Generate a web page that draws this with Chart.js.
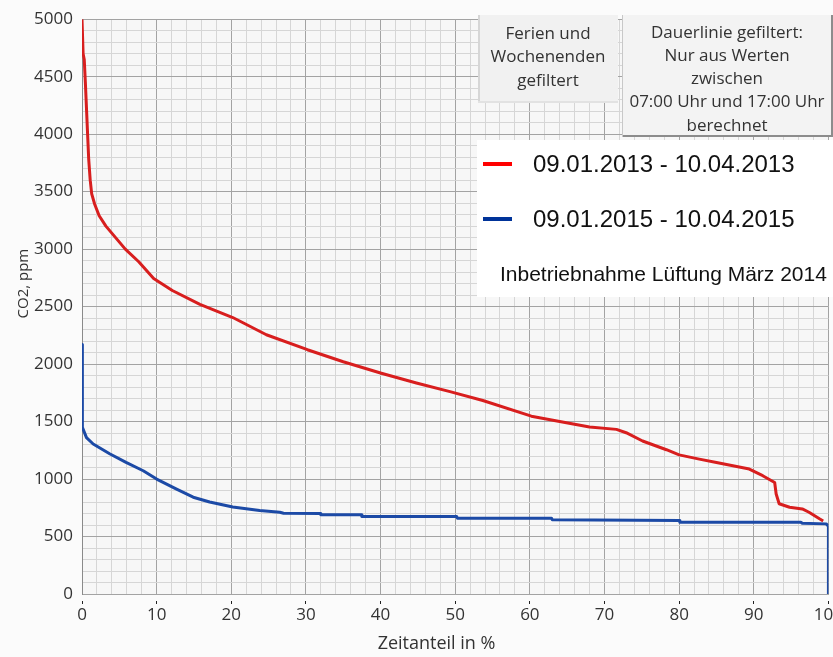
<!DOCTYPE html>
<html>
<head>
<meta charset="utf-8">
<script src="https://cdn.jsdelivr.net/npm/chart.js@4.4.1/dist/chart.umd.min.js"></script>
<style>
    html, body { margin: 0; padding: 0; background: #fbfbfb; }
    #wrap { width: 833px; height: 657px; overflow: hidden; }
</style>
</head>
<body>
<div id="wrap"><canvas id="chartCO2_Dauerlinie" width="844" height="657"></canvas></div>
<script>
    // Dauerlinie 09.01.2013 - 10.04.2013 (Zeitanteil in %, CO2 in ppm)
    var x_2013 = [0, 0.15, 0.3, 0.45, 0.55, 0.75, 0.9, 1.1, 1.3, 1.7, 2.3, 3.2, 4.5, 5.8, 7.6, 9.6, 12.1, 15.8, 20.2, 24.7,
        30.2, 35, 40.1, 44.8, 49.3, 53.7, 60.2, 64.9, 68, 71.6, 72.9, 75.1, 78.3, 80, 82.7, 85, 87.2, 89.4, 91.2, 92.8,
        93, 93.4, 94.8, 96.5, 97.4, 98.8, 99.3];
    var co2_2013 = [5000, 4700, 4650, 4450, 4300, 4000, 3780, 3600, 3480, 3390, 3290, 3200, 3100, 3000, 2890, 2745, 2640, 2520, 2405, 2255,
        2125, 2020, 1920, 1835, 1760, 1683, 1547, 1489, 1452, 1432, 1403, 1331, 1255, 1210, 1173, 1144, 1115, 1087, 1029, 970,
        870, 785, 755, 740, 711, 654, 635];

    // Dauerlinie 09.01.2015 - 10.04.2015
    var x_2015 = [0, 0.05, 0.6, 1.5, 3.7, 5.9, 8.2, 10, 12.6, 14.9, 17.1, 20.2, 23.8, 26.5, 27, 31.9, 32, 37.4, 37.5, 50.2,
        50.3, 62.9, 63, 80, 80.1, 96.3, 96.5, 99.7, 100, 100];
    var co2_2015 = [2170, 1450, 1360, 1305, 1220, 1145, 1072, 1000, 915, 842, 800, 756, 726, 711, 703, 700, 689, 689, 674, 674,
        660, 660, 646, 640, 625, 625, 616, 610, 590, 0];

    var xTickLabels = [0, 10, 20, 30, 40, 50, 60, 70, 80, 90, 100];
    var yTickLabels = [0, 500, 1000, 1500, 2000, 2500, 3000, 3500, 4000, 4500, 5000];

    var seriesLabels = ['09.01.2013 - 10.04.2013', '09.01.2015 - 10.04.2015'];
    var filterText1 = ['Ferien und', 'Wochenenden', 'gefiltert'];
    var filterText2 = ['Dauerlinie gefiltert:', 'Nur aus Werten', 'zwischen', '07:00 Uhr und 17:00 Uhr', 'berechnet'];
    var noteText = 'Inbetriebnahme Lüftung März 2014';
    var xTitle = 'Zeitanteil in %';
    var yTitle = 'CO2, ppm';

    var arrColor = ['#d81e1e', '#1c4aa6'];
    var arrLegendColor = ['#ff0000', '#003399'];

    function toPoints(xs, ys) {
        let arr = [];
        for (let i = 0; i < xs.length; i++) {
            arr.push({ x: xs[i], y: ys[i] });
        }
        return arr;
    }

    const overlay = {
        id: 'overlay',
        beforeDraw: function (chart) {
            const ctx = chart.ctx;
            const a = chart.chartArea;
            ctx.save();
            ctx.fillStyle = '#fbfbfb';
            ctx.fillRect(0, 0, chart.width, chart.height);
            ctx.fillStyle = '#f7f7f7';
            ctx.fillRect(a.left, a.top, a.right - a.left, a.bottom - a.top);
            ctx.restore();
        },
        afterDraw: function (chart) {
            const ctx = chart.ctx;
            const sx = chart.scales.x;
            const sy = chart.scales.y;
            ctx.save();

            // axis titles
            ctx.fillStyle = '#333';
            ctx.font = '18px "Open Sans"';
            ctx.textAlign = 'center';
            ctx.textBaseline = 'middle';
            ctx.fillText(xTitle, sx.getPixelForValue(47.5), 644);

            ctx.save();
            ctx.translate(24, sy.getPixelForValue(2700));
            ctx.rotate(-Math.PI / 2);
            ctx.font = '15px "Open Sans"';
            ctx.fillText(yTitle, 0, 0);
            ctx.restore();

            // box "Ferien und Wochenenden gefiltert"
            ctx.fillStyle = '#f1f1f1';
            ctx.fillRect(478, 15, 140, 88);
            ctx.fillStyle = '#d6d6d6';
            ctx.fillRect(478, 15, 2, 88);
            ctx.fillStyle = '#e2e2e2';
            ctx.fillRect(478, 101, 140, 2);

            // box "Dauerlinie gefiltert"
            ctx.fillStyle = '#f3f3f3';
            ctx.fillRect(622, 15, 211, 122);
            ctx.fillStyle = '#8c8c8c';
            ctx.fillRect(622, 135, 211, 2);
            ctx.fillRect(831, 15, 2, 122);
            ctx.fillStyle = '#c8c8c8';
            ctx.fillRect(622, 15, 1, 122);

            ctx.fillStyle = '#333';
            ctx.font = '17px "Open Sans"';
            for (let i = 0; i < filterText1.length; i++) {
                ctx.fillText(filterText1[i], 548, 34 + i * 23.5);
            }
            for (let i = 0; i < filterText2.length; i++) {
                ctx.fillText(filterText2[i], 727, 33 + i * 23.2);
            }

            // legend
            ctx.fillStyle = '#ffffff';
            ctx.fillRect(477, 140, 356, 157);
            ctx.textAlign = 'left';
            for (let i = 0; i < seriesLabels.length; i++) {
                let y = 164 + i * 55;
                ctx.fillStyle = arrLegendColor[i];
                ctx.fillRect(483, y - 2, 29, 4);
                ctx.fillStyle = '#111';
                ctx.font = '24px "Liberation Sans"';
                ctx.fillText(seriesLabels[i], 533, y + 1);
            }
            ctx.font = '21px "Liberation Sans"';
            ctx.fillText(noteText, 500, 275);

            ctx.restore();
        }
    };

    let ctx1 = document.getElementById('chartCO2_Dauerlinie').getContext('2d');

    let dic_Data = new Object();
    dic_Data[seriesLabels[0]] = toPoints(x_2013, co2_2013);
    dic_Data[seriesLabels[1]] = toPoints(x_2015, co2_2015);

    let objDatasets = [];
    let i = 0;
    for (let key in dic_Data) {
        objDatasets.push({
            label: key,
            data: dic_Data[key],
            borderColor: arrColor[i],
            backgroundColor: arrColor[i],
            borderWidth: 3,
            borderJoinStyle: 'round',
            pointRadius: 0,
            tension: 0,
            fill: false
        });
        i += 1;
    }

    let co2Chart = new Chart(ctx1, {
        type: 'line',
        data: { datasets: objDatasets },
        plugins: [overlay],
        options: {
            responsive: false,
            animation: false,
            devicePixelRatio: 1,
            layout: { padding: { top: 15, right: 15, bottom: 0, left: 0 } },
            plugins: {
                legend: { display: false },
                tooltip: { enabled: false }
            },
            scales: {
                x: {
                    type: 'linear',
                    min: 0,
                    max: 100,
                    afterFit: function (s) { s.height = 63; },
                    ticks: {
                        stepSize: 2,
                        autoSkip: false,
                        maxRotation: 0,
                        padding: 1,
                        color: '#333',
                        font: { family: 'Open Sans', size: 17 },
                        callback: function (v) { return xTickLabels.indexOf(v) >= 0 ? String(v) : ''; }
                    },
                    grid: {
                        color: function (c) { return (c.tick && c.tick.value % 10 === 0) ? '#a3a3a3' : '#d6d6d6'; },
                        tickColor: function (c) { return (c.tick && c.tick.value % 10 === 0) ? '#222' : 'rgba(0,0,0,0)'; },
                        tickLength: 10,
                        tickBorderDash: [0, 6, 4, 0]
                    },
                    border: { color: '#a3a3a3' }
                },
                y: {
                    min: 0,
                    max: 5000,
                    afterFit: function (s) { s.width = 82; },
                    ticks: {
                        stepSize: 100,
                        autoSkip: false,
                        padding: 9,
                        color: '#333',
                        font: { family: 'Open Sans', size: 17 },
                        callback: function (v) { return yTickLabels.indexOf(v) >= 0 ? String(v) : ''; }
                    },
                    grid: {
                        drawTicks: false,
                        color: function (c) { return (c.tick && c.tick.value % 500 === 0) ? '#a3a3a3' : '#d6d6d6'; }
                    },
                    border: { color: '#8a8a8a' }
                }
            }
        }
    });
</script>
</body>
</html>
